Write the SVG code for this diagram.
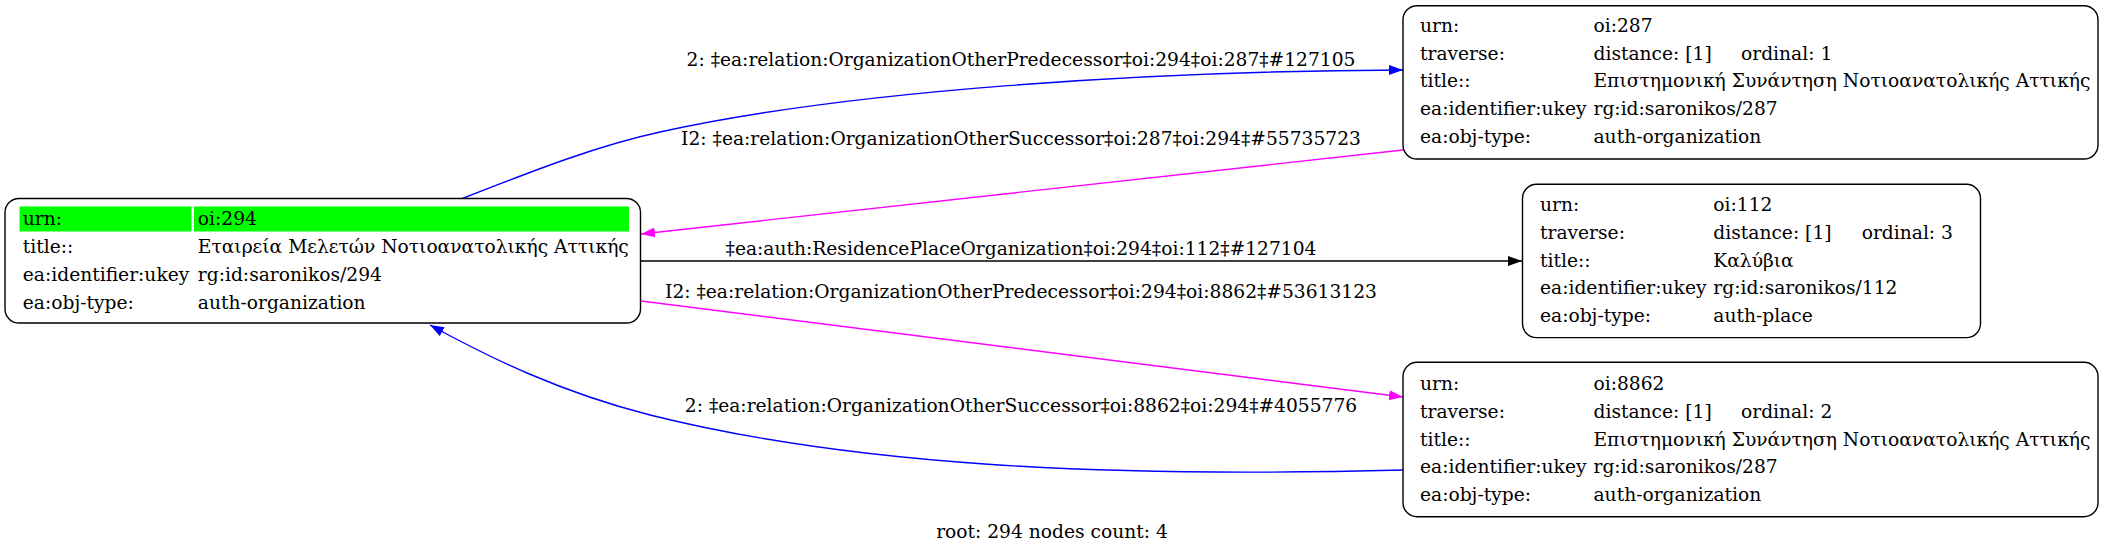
<svg xmlns="http://www.w3.org/2000/svg" width="2107" height="553" viewBox="0 0 2107 553">
<style>
text{font-family:"DejaVu Serif","Liberation Serif",serif;font-size:18.67px;fill:#000}
.box{fill:#fff;stroke:#000;stroke-width:1.4}
.hl{fill:#00ff00}
.e{fill:none;stroke-width:1.4}
.mid{text-anchor:middle}
</style>
<defs>
<marker id="ab" markerUnits="userSpaceOnUse" markerWidth="16" markerHeight="12" refX="14" refY="5" orient="auto"><path d="M0,0 L14,5 L0,10 Z" fill="#0000ff"/></marker>
<marker id="am" markerUnits="userSpaceOnUse" markerWidth="16" markerHeight="12" refX="14" refY="5" orient="auto"><path d="M0,0 L14,5 L0,10 Z" fill="#ff00ff"/></marker>
<marker id="ak" markerUnits="userSpaceOnUse" markerWidth="16" markerHeight="12" refX="14" refY="5" orient="auto"><path d="M0,0 L14,5 L0,10 Z" fill="#000"/></marker>
</defs>
<rect width="2107" height="553" fill="#fff"/>
<g id="edges">
<path class="e" stroke="#0000ff" marker-end="url(#ab)" d="M461,199 C540,168 600,145 660,132 C850,90 1150,71 1403,70"/>
<text class="mid" x="1021" y="66">2: ‡ea:relation:OrganizationOtherPredecessor‡oi:294‡oi:287‡#127105</text>
<path class="e" stroke="#ff00ff" marker-end="url(#am)" d="M1403,150 L641,234"/>
<text class="mid" x="1021" y="145">I2: ‡ea:relation:OrganizationOtherSuccessor‡oi:287‡oi:294‡#55735723</text>
<path class="e" stroke="#000" marker-end="url(#ak)" d="M640,261 L1522,261"/>
<text class="mid" x="1021" y="255">‡ea:auth:ResidencePlaceOrganization‡oi:294‡oi:112‡#127104</text>
<path class="e" stroke="#ff00ff" marker-end="url(#am)" d="M641,301 L1403,397"/>
<text class="mid" x="1021" y="298">I2: ‡ea:relation:OrganizationOtherPredecessor‡oi:294‡oi:8862‡#53613123</text>
<path class="e" stroke="#0000ff" marker-end="url(#ab)" d="M1403,470 C1100,478 850,465 650,415 C560,392 490,358 430,325"/>
<text class="mid" x="1021" y="412">2: ‡ea:relation:OrganizationOtherSuccessor‡oi:8862‡oi:294‡#4055776</text>
</g>
<g id="node294">
<rect class="box" x="5" y="198.5" width="635.5" height="124.5" rx="14"/>
<rect class="hl" x="19.5" y="206.5" width="172" height="25"/>
<rect class="hl" x="194" y="206.5" width="435" height="25"/>
<text x="22.8" y="224.5">urn:</text><text x="197.8" y="224.5">oi:294</text>
<text x="22.8" y="252.5">title::</text><text x="197.8" y="252.5">Εταιρεία Μελετών Νοτιοανατολικής Αττικής</text>
<text x="22.8" y="280.5">ea:identifier:ukey</text><text x="197.8" y="280.5">rg:id:saronikos/294</text>
<text x="22.8" y="308.5">ea:obj-type:</text><text x="197.8" y="308.5">auth-organization</text>
</g>
<g id="node287">
<rect class="box" x="1403" y="5.7" width="695" height="153.3" rx="14"/>
<text x="1420" y="31.7">urn:</text><text x="1593.5" y="31.7">oi:287</text>
<text x="1420" y="59.5">traverse:</text><text x="1593.5" y="59.5">distance: [1]</text><text x="1741" y="59.5">ordinal: 1</text>
<text x="1420" y="87.3">title::</text><text x="1593.5" y="87.3">Επιστημονική Συνάντηση Νοτιοανατολικής Αττικής</text>
<text x="1420" y="115">ea:identifier:ukey</text><text x="1593.5" y="115">rg:id:saronikos/287</text>
<text x="1420" y="142.7">ea:obj-type:</text><text x="1593.5" y="142.7">auth-organization</text>
</g>
<g id="node112">
<rect class="box" x="1522.5" y="184.3" width="458" height="153.3" rx="14"/>
<text x="1540" y="211">urn:</text><text x="1713.3" y="211">oi:112</text>
<text x="1540" y="239">traverse:</text><text x="1713.3" y="239">distance: [1]</text><text x="1861.7" y="239">ordinal: 3</text>
<text x="1540" y="266.7">title::</text><text x="1713.3" y="266.7">Καλύβια</text>
<text x="1540" y="294.3">ea:identifier:ukey</text><text x="1713.3" y="294.3">rg:id:saronikos/112</text>
<text x="1540" y="322">ea:obj-type:</text><text x="1713.3" y="322">auth-place</text>
</g>
<g id="node8862">
<rect class="box" x="1403" y="362.3" width="695" height="154.4" rx="14"/>
<text x="1420" y="390">urn:</text><text x="1593.5" y="390">oi:8862</text>
<text x="1420" y="418">traverse:</text><text x="1593.5" y="418">distance: [1]</text><text x="1741" y="418">ordinal: 2</text>
<text x="1420" y="445.7">title::</text><text x="1593.5" y="445.7">Επιστημονική Συνάντηση Νοτιοανατολικής Αττικής</text>
<text x="1420" y="473.3">ea:identifier:ukey</text><text x="1593.5" y="473.3">rg:id:saronikos/287</text>
<text x="1420" y="501">ea:obj-type:</text><text x="1593.5" y="501">auth-organization</text>
</g>
<text class="mid" x="1052" y="538">root: 294 nodes count: 4</text>
</svg>
